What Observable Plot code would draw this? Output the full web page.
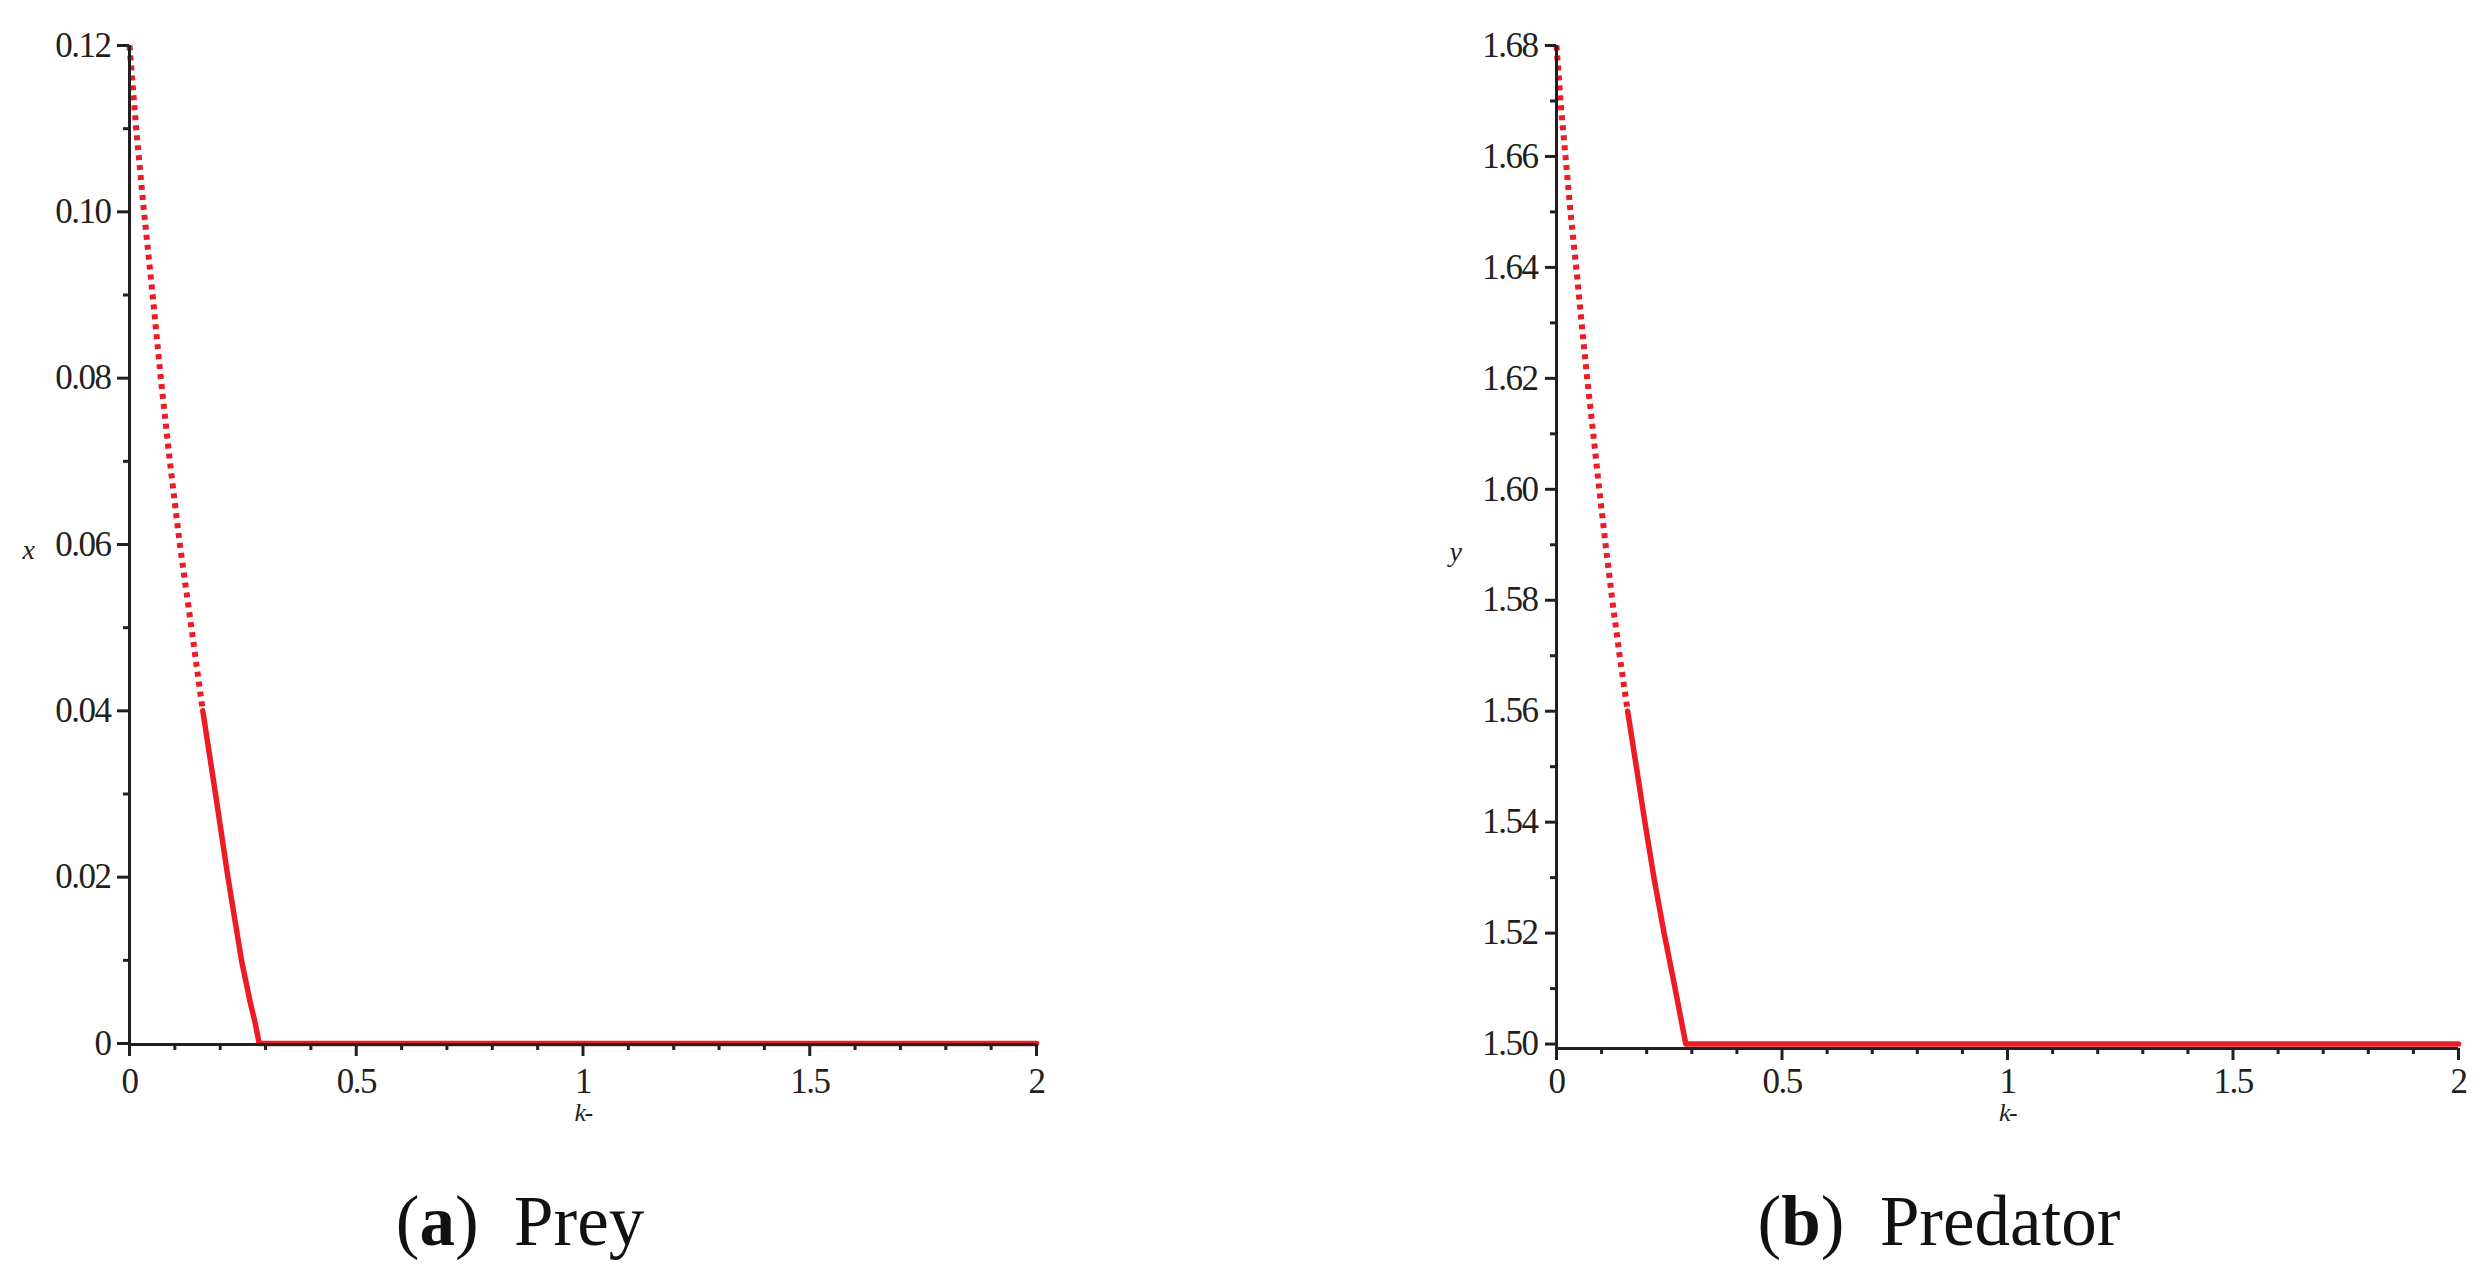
<!DOCTYPE html>
<html><head><meta charset="utf-8">
<script src="https://cdn.jsdelivr.net/npm/d3@7"></script>
<script src="https://cdn.jsdelivr.net/npm/@observablehq/plot@0.6"></script>
<style>
body{margin:0;background:#fff;width:2491px;height:1288px;overflow:hidden;position:relative;font-family:"Liberation Serif",serif}
.panel{position:absolute;top:0}
.cap{position:absolute;top:1186px;font-size:71px;line-height:70px;color:#111;white-space:nowrap;transform:translateX(-50%)}
</style></head><body>
<div id="left" class="panel" style="left:0"></div>
<div id="right" class="panel" style="left:1245px"></div>
<div class="cap" style="left:520px">(<b>a</b>)&ensp;Prey</div>
<div class="cap" style="left:1939px">(<b>b</b>)&ensp;Predator</div>
<script>
// ---- data ----
const kPrey = [0, 0.0147, 0.032, 0.051, 0.069, 0.089, 0.111, 0.1365, 0.1616, 0.1897, 0.217, 0.247, 0.266, 0.277, 0.286, 2];
const xPrey = [0.12, 0.11, 0.10, 0.09, 0.08, 0.07, 0.06, 0.05, 0.04, 0.03, 0.02, 0.01, 0.005, 0.0025, 0, 0];
const kPred = [0, 0.0089, 0.020, 0.031, 0.0437, 0.0556, 0.068, 0.0815, 0.0948, 0.1089, 0.1237, 0.14, 0.1578, 0.177, 0.196, 0.216, 0.2385, 0.263, 0.2867, 2];
const yPred = [1.68, 1.67, 1.66, 1.65, 1.64, 1.63, 1.62, 1.61, 1.60, 1.59, 1.58, 1.57, 1.56, 1.55, 1.54, 1.53, 1.52, 1.51, 1.50, 1.50];

const xMajorTicks = [0, 0.5, 1, 1.5, 2];
const xMajorLabels = ["0", "0.5", "1", "1.5", "2"];
const xMinorTicks = [0.1, 0.2, 0.3, 0.4, 0.6, 0.7, 0.8, 0.9, 1.1, 1.2, 1.3, 1.4, 1.6, 1.7, 1.8, 1.9];

const preyMajorTicks = [0, 0.02, 0.04, 0.06, 0.08, 0.10, 0.12];
const preyMajorLabels = ["0", "0.02", "0.04", "0.06", "0.08", "0.10", "0.12"];
const preyMinorTicks = [0.01, 0.03, 0.05, 0.07, 0.09, 0.11];

const predMajorTicks = [1.50, 1.52, 1.54, 1.56, 1.58, 1.60, 1.62, 1.64, 1.66, 1.68];
const predMajorLabels = ["1.50", "1.52", "1.54", "1.56", "1.58", "1.60", "1.62", "1.64", "1.66", "1.68"];
const predMinorTicks = [1.51, 1.53, 1.55, 1.57, 1.59, 1.61, 1.63, 1.65, 1.67];

// ---- styling ----
const RED = "#ed1c24";
const INK = "#231f20";
const SPLIT_K = 0.165; // where the sampled dots merge into a continuous trace

function panel(o) {
  const rows = o.k.map((k, i) => ({k, v: o.v[i]}));
  let i0 = 0;
  rows.forEach((r, i) => { if (r.k <= SPLIT_K) i0 = i; });
  const dotted = rows.slice(0, i0 + 1);
  const solid = rows.slice(i0);
  return Plot.plot({
    width: o.width, height: 1140,
    marginTop: 45, marginLeft: o.marginLeft, marginRight: o.marginRight, marginBottom: o.marginBottom,
    x: {domain: [0, 2]},
    y: {domain: o.yDomain},
    style: {fontFamily: '"Liberation Serif", serif', fontSize: "35px", color: INK, letterSpacing: "-1.5px", background: "white"},
    marks: [
      Plot.line(dotted, {x: "k", y: "v", stroke: RED, strokeWidth: 6, strokeDasharray: "5,5", strokeLinecap: "butt"}),
      Plot.line(solid, {x: "k", y: "v", stroke: RED, strokeWidth: 5.5, strokeLinejoin: "round"}),
      Plot.ruleX([0], {stroke: INK, strokeWidth: 3}),
      Plot.ruleY([o.yDomain[0]], {stroke: INK, strokeWidth: 3}),
      Plot.axisY({ticks: o.yMajor, tickSize: o.yTickSize, tickPadding: o.yTickPadding, strokeWidth: 3, label: null,
        tickFormat: d => o.yLabels[o.yMajor.indexOf(d)]}),
      Plot.axisY({ticks: o.yMinor, tickSize: 6, strokeWidth: 3, label: null, tickFormat: () => ""}),
      Plot.axisX({ticks: xMajorTicks, tickSize: 12, tickPadding: o.xTickPadding, strokeWidth: 3, label: null,
        tickFormat: d => xMajorLabels[xMajorTicks.indexOf(d)]}),
      Plot.axisX({ticks: xMinorTicks, tickSize: 6, strokeWidth: 3, label: null, tickFormat: () => ""}),
      Plot.text([o.yTitle], {frameAnchor: "left", text: d => d, dx: -107, dy: 5, fontStyle: "italic", fontSize: 28, fill: INK}),
      Plot.text(["k-"], {frameAnchor: "bottom", text: d => d, dy: o.kDy, fontStyle: "italic", fontSize: 26, fill: INK})
    ]
  });
}

document.getElementById("left").append(panel({
  k: kPrey, v: xPrey, yDomain: [-0.00012, 0.12],
  yMajor: preyMajorTicks, yLabels: preyMajorLabels, yMinor: preyMinorTicks,
  yTitle: "x", width: 1245, marginLeft: 129, marginRight: 209, marginBottom: 96,
  yTickSize: 12, yTickPadding: 7, xTickPadding: 12, kDy: 76
}));
document.getElementById("right").append(panel({
  k: kPred, v: yPred, yDomain: [1.4992, 1.68],
  yMajor: predMajorTicks, yLabels: predMajorLabels, yMinor: predMinorTicks,
  yTitle: "y", width: 1246, marginLeft: 311, marginRight: 33, marginBottom: 92,
  yTickSize: 11, yTickPadding: 8, xTickPadding: 8, kDy: 72
}));
</script>
</body></html>
